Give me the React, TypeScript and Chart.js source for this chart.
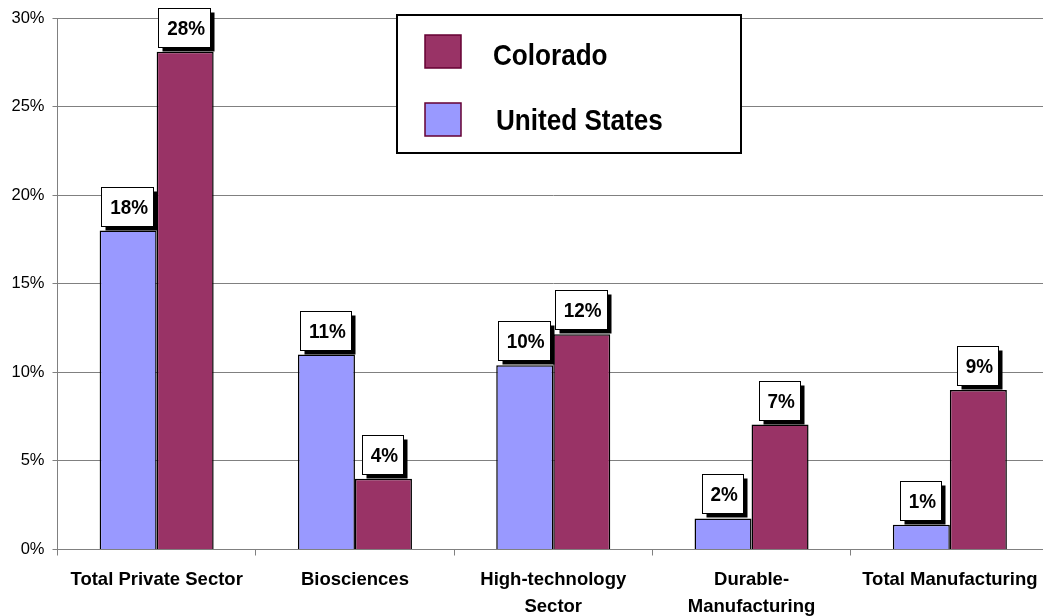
import React, { useEffect, useRef } from "react";
import { Chart, registerables } from "chart.js";

Chart.register(...registerables);

const categories: (string | string[])[] = [
  "Total Private Sector",
  "Biosciences",
  ["High-technology", "Sector"],
  ["Durable-", "Manufacturing"],
  "Total Manufacturing",
];
const unitedStates = [18.0, 11.0, 10.4, 1.75, 1.4];
const colorado = [28.1, 4.0, 12.15, 7.05, 9.0];
const seriesNames = ["United States", "Colorado"];
const yTicks = [0, 5, 10, 15, 20, 25, 30];

const US_COLOR = "#9999FF";
const CO_COLOR = "#993366";
const FONT = "'Liberation Sans', Arial, sans-serif";

// Draw text squeezed horizontally (narrow, tall glyphs)
function squeezedText(ctx: any, text: string, x: number, y: number, sx: number, align: string) {
  ctx.save();
  ctx.translate(x, y);
  ctx.scale(sx, 1);
  ctx.textAlign = align;
  ctx.textBaseline = "middle";
  ctx.fillText(text, 0, 0);
  ctx.restore();
}

// Boxed value labels with a black drop shadow above every bar
const valueBoxes = {
  id: "valueBoxes",
  afterDatasetsDraw(chart: any) {
    const ctx = chart.ctx;
    const sx = 0.9;
    ctx.save();
    ctx.font = `bold 21px ${FONT}`;
    chart.data.datasets.forEach((ds: any, di: number) => {
      const meta = chart.getDatasetMeta(di);
      meta.data.forEach((bar: any, i: number) => {
        const text = `${Math.round(ds.data[i])}%`;
        const w = ctx.measureText(text).width * sx;
        const bw = Math.round(w + 14);
        const bh = 39;
        const bx = Math.round(bar.x - bw / 2 - 1) + 0.5;
        const by = Math.round(bar.y - 5 - bh) + 0.5;
        ctx.fillStyle = "#000";
        ctx.fillRect(bx + 4, by + 4, bw, bh);
        ctx.fillStyle = "#fff";
        ctx.fillRect(bx, by, bw, bh);
        ctx.strokeStyle = "#000";
        ctx.lineWidth = 1;
        ctx.strokeRect(bx, by, bw, bh);
        ctx.fillStyle = "#000";
        squeezedText(ctx, text, bar.x + 1, by + bh / 2 + 1, sx, "center");
      });
    });
    ctx.restore();
  },
};

// Framed legend box placed inside the plot area
const boxedLegend = {
  id: "boxedLegend",
  afterDraw(chart: any) {
    const ctx = chart.ctx;
    ctx.save();
    ctx.fillStyle = "#fff";
    ctx.fillRect(397, 15, 344, 138);
    ctx.strokeStyle = "#000";
    ctx.lineWidth = 2;
    ctx.strokeRect(397, 15, 344, 138);
    const entries = [
      { name: seriesNames[1], color: CO_COLOR, y: 35, tx: 493, ty: 57 },
      { name: seriesNames[0], color: US_COLOR, y: 103, tx: 496, ty: 121.5 },
    ];
    entries.forEach((e) => {
      ctx.fillStyle = e.color;
      ctx.fillRect(425, e.y, 36, 33);
      ctx.strokeStyle = "#660033";
      ctx.lineWidth = 1.5;
      ctx.strokeRect(425, e.y, 36, 33);
      ctx.fillStyle = "#000";
      ctx.font = `bold 30px ${FONT}`;
      squeezedText(ctx, e.name, e.tx, e.ty, 0.87, "left");
    });
    ctx.restore();
  },
};

export default function App() {
  const canvasRef = useRef<HTMLCanvasElement | null>(null);

  useEffect(() => {
    document.documentElement.style.overflow = "hidden";
    document.body.style.overflow = "hidden";
    const canvas = canvasRef.current;
    if (!canvas) return;
    const chart = new Chart(canvas, {
      type: "bar",
      data: {
        labels: categories,
        datasets: [
          {
            label: seriesNames[0],
            data: unitedStates,
            backgroundColor: US_COLOR,
            borderColor: "#000",
            borderWidth: 1.5,
            barPercentage: 1,
            categoryPercentage: 0.575,
          },
          {
            label: seriesNames[1],
            data: colorado,
            backgroundColor: CO_COLOR,
            borderColor: "#000",
            borderWidth: 1.5,
            barPercentage: 1,
            categoryPercentage: 0.575,
          },
        ],
      },
      options: {
        responsive: false,
        animation: false,
        layout: { padding: { top: 18, left: 0, right: 11, bottom: 0 } },
        plugins: {
          legend: { display: false },
          tooltip: { enabled: false },
        },
        scales: {
          x: {
            grid: {
              display: true,
              offset: true,
              drawOnChartArea: false,
              tickLength: 6,
              color: "#808080",
            },
            border: { color: "#808080", width: 1 },
            ticks: {
              color: "#000",
              font: { family: FONT, size: 18.5, weight: "bold", lineHeight: 1.45 },
              padding: 11,
              maxRotation: 0,
              autoSkip: false,
            },
            afterFit(scale: any) {
              scale.height = 66.5;
            },
          },
          y: {
            min: 0,
            max: 30,
            afterBuildTicks(scale: any) {
              scale.ticks = yTicks.map((v) => ({ value: v }));
            },
            grid: { color: "#808080", tickLength: 5 },
            border: { color: "#808080", width: 1 },
            ticks: {
              color: "#000",
              font: { family: FONT, size: 16.5 },
              padding: 8,
              callback: (v: any) => `${v}%`,
            },
            afterFit(scale: any) {
              scale.width = 57.5;
            },
          },
        },
      },
      plugins: [valueBoxes, boxedLegend],
    });
    return () => chart.destroy();
  }, []);

  return (
    <div style={{ position: "fixed", left: 0, top: 0, width: 1060, height: 616, background: "#fff" }}>
      <canvas ref={canvasRef} width={1060} height={616} />
    </div>
  );
}
